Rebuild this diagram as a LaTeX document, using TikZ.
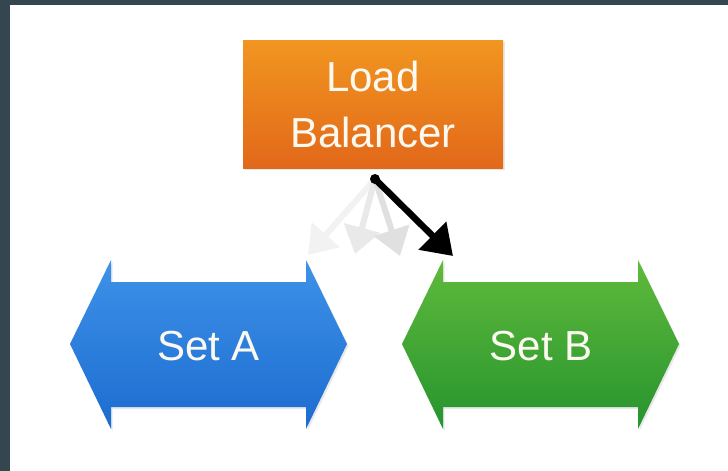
\documentclass[tikz,border=0pt]{standalone}
\usepackage{fontspec}
\setmainfont{Liberation Sans}
\usetikzlibrary{arrows.meta,shadows}
\definecolor{frame}{RGB}{52,70,80}
\definecolor{orTop}{RGB}{241,150,32}
\definecolor{orBot}{RGB}{226,104,26}
\definecolor{blTop}{RGB}{62,146,232}
\definecolor{blBot}{RGB}{28,108,208}
\definecolor{grTop}{RGB}{96,186,60}
\definecolor{grBot}{RGB}{38,148,46}
\definecolor{txt}{RGB}{252,250,240}
\definecolor{gh1}{RGB}{242,242,242}
\definecolor{gh2}{RGB}{233,233,233}
\definecolor{gh3}{RGB}{224,224,224}
\tikzset{
  lbbox/.style={minimum width=260pt, minimum height=128pt, inner sep=0pt,
    top color=orTop, bottom color=orBot, align=center, text=txt,
    font=\fontsize{42}{56}\selectfont,
    drop shadow={opacity=0.18, shadow xshift=1.5pt, shadow yshift=-2pt}},
  setlabel/.style={text=txt, font=\fontsize{42}{50}\selectfont, inner sep=0pt},
  ghost/.style={line width=6pt, -{Triangle[length=27pt,width=36pt]}},
  pick/.style={line width=6.5pt, line cap=round, -{Triangle[length=29pt,width=38pt]}}
}
\begin{document}
\begin{tikzpicture}[x=1pt,y=-1pt]
\useasboundingbox (0,0) rectangle (728,471);
\fill[white] (0,0) rectangle (728,471);
\fill[frame] (0,0) rectangle (728,5);
\fill[frame] (0,0) rectangle (10,471);

% double arrows (Set A, Set B)
\foreach \cx/\ct/\cb in {208.5/blTop/blBot, 540.5/grTop/grBot}{
  \shade[top color=\ct, bottom color=\cb,
         drop shadow={opacity=0.18, shadow xshift=1.5pt, shadow yshift=-2pt}]
    (\cx-138.5,344) -- (\cx-97.5,260) -- (\cx-97.5,282) -- (\cx+97.5,282)
    -- (\cx+97.5,260) -- (\cx+138.5,344) -- (\cx+97.5,429) -- (\cx+97.5,407)
    -- (\cx-97.5,407) -- (\cx-97.5,429) -- cycle;
}
\node[setlabel] (setA) at (208.5,346) {Set A};
\node[setlabel] (setB) at (541,346) {Set B};

% load balancer
\node[lbbox] (lb) at (373,104) {Load\\Balancer};

% arrows
\coordinate (src) at (375,179);
\coordinate (g1) at (308,255);
\coordinate (g2) at (355,254);
\coordinate (g3) at (400,256);
\coordinate (tB) at (453,256);
\draw[ghost, draw=gh1, fill=gh1] (src) -- (g1);
\draw[ghost, draw=gh2, fill=gh2] (src) -- (g2);
\draw[ghost, draw=gh3, fill=gh3] (src) -- (g3);
\draw[pick] (src) -- (tB);
\fill (src) circle (5pt);
\end{tikzpicture}
\end{document}
